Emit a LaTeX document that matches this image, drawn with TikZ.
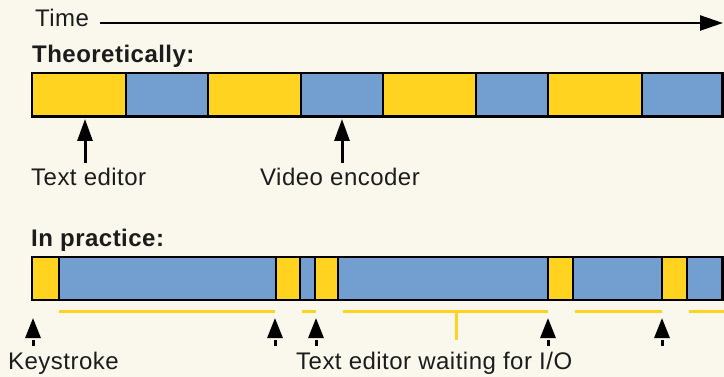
\documentclass[tikz,border=0pt]{standalone}
\usepackage{fontspec}
\setmainfont[LetterSpace=2]{Liberation Sans}
\usetikzlibrary{arrows.meta}
\definecolor{paper}{HTML}{FAF7ED}
\definecolor{edityellow}{HTML}{FFD320}
\definecolor{encblue}{HTML}{729FCF}
\definecolor{ink}{HTML}{1C1C1C}
\tikzset{
  seg/.style={draw=black,line width=2.5pt},
  lbl/.style={inner sep=0pt,anchor=base west,text=ink,font=\fontsize{24}{28}\selectfont},
  head/.style={lbl,font=\fontsize{24}{28}\selectfont\bfseries},
  uparrow/.style={line width=3pt,-{Triangle[length=22pt,width=15pt]}},
  keyarrow/.style={line width=3pt,dash pattern=on 6pt off 30pt,-{Triangle[length=20pt,width=15pt]}},
  waitline/.style={edityellow,line width=3pt}
}
\begin{document}
\begin{tikzpicture}[x=1pt,y=-1pt]
    \fill[paper] (0,0) rectangle (724,377);
    \useasboundingbox (0,0) rectangle (724,377);

    % time axis
    \node[lbl] (time) at (35,27) {Time};
    \coordinate (t0) at (100,23);
    \coordinate (t1) at (723,23);
    \draw[line width=2.5pt,-{Triangle[length=23pt,width=15pt]}] (t0)--(t1);

    % theoretically
    \node[head] (theo) at (32,63) {Theoretically:};
    \foreach \a/\b/\c in {32/126/edityellow,126/208/encblue,208/301/edityellow,301/383/encblue,
                          383/476/edityellow,476/548/encblue,548/642/edityellow,642/722.5/encblue}
        \filldraw[seg,fill=\c] (\a,73) rectangle (\b,116.5);

    \coordinate (editor) at (85,119);
    \coordinate (encoder) at (342,119);
    \draw[uparrow] (85,163)--(editor);
    \draw[uparrow] (342,163)--(encoder);
    \node[lbl] (editorlbl) at (31,186) {Text editor};
    \node[lbl] (encoderlbl) at (260,186) {Video encoder};

    % in practice
    \node[head] (prac) at (31,247) {In practice:};
    \foreach \a/\b/\c in {32/59/edityellow,59/276/encblue,276/300/edityellow,300/315/encblue,
                          315/338/edityellow,338/548/encblue,548/573/edityellow,573/662/encblue,
                          662/687/edityellow,687/722.5/encblue}
        \filldraw[seg,fill=\c] (\a,257) rectangle (\b,300);

    % waiting for I/O
    \foreach \a/\b in {59/275,302/316,343/548,575/662,689/724}
        \draw[waitline] (\a,312)--(\b,312);
    \draw[waitline] (456,312)--(456,340);

    % keystrokes
    \foreach \x in {33,275,316,548,662}
        \draw[keyarrow] (\x,346)--(\x,318);
    \node[lbl] (keylbl) at (8,370) {Keystroke};
    \node[lbl] (waitlbl) at (296,370) {Text editor waiting for I/O};

\end{tikzpicture}
\end{document}
